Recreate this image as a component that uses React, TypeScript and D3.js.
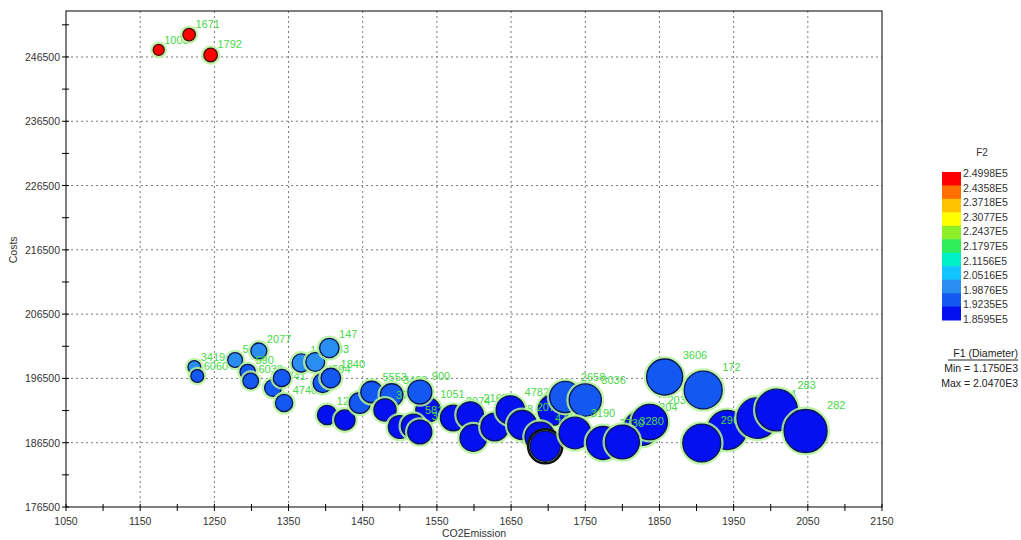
import { useEffect, useRef } from "react";
import * as d3 from "d3";

// point ids, CO2 emission (x, also F1 = diameter) and costs (y, also F2 = colour)
const ids = [
  "1003", "1671", "1792", "3419", "6060", "5136", "2077", "590", "6033", "4741",
  "6037", "4740", "1879", "4033", "147", "594", "1840", "1273", "1310", "2768",
  "5553", "3428", "3700", "4205", "1051", "581", "900", "3001", "2074", "2165",
  "2161", "6378", "4782", "4792", "2072", "4791", "1002", "2658", "3036", "3190",
  "204", "203", "2730", "3280", "3606", "172", "2955", "2960", "294", "283", "282",
];
const co2 = [
  1175, 1216, 1245, 1223, 1227, 1278, 1310, 1295, 1299, 1329,
  1341, 1344, 1367, 1386, 1405, 1396, 1407, 1402, 1426, 1446,
  1462, 1489, 1480, 1500, 1538, 1518, 1527, 1527, 1572, 1595,
  1599, 1628, 1649, 1707, 1665, 1689, 1696, 1723, 1750, 1736,
  1826, 1837, 1774, 1800, 1857, 1909, 1941, 1907, 1982, 2008, 2047,
];
const costs = [
  247590, 249980, 246810, 198277, 196877, 199366, 200766, 197499, 196099, 195010,
  196566, 192677, 198899, 199055, 201232, 195788, 196566, 190811, 190033, 192677,
  194388, 193922, 191588, 188944, 191588, 189100, 194388, 188166, 190344, 190811,
  187233, 188944, 191588, 191588, 189255, 187389, 185950, 193611, 193144, 188011,
  188789, 189722, 186455, 186611, 196722, 194699, 188478, 186455, 190344, 191588, 188322,
];
const selectedId = "1002";

const xTicks = d3.range(1050, 2151, 100);
const xMinor = d3.range(1100, 2101, 100);
const yTicks = d3.range(176500, 246501, 10000);
const yMinor = d3.range(181500, 251501, 10000);

const f2Labels = [
  "2.4998E5", "2.4358E5", "2.3718E5", "2.3077E5", "2.2437E5", "2.1797E5",
  "2.1156E5", "2.0516E5", "1.9876E5", "1.9235E5", "1.8595E5",
];
// low -> high
const colours = [
  "#0410f0", "#1458f2", "#2a8ef0", "#12c4ff", "#00f0c8", "#30ee5a",
  "#8cf028", "#ffff00", "#ffc400", "#ff7000", "#ff0000",
];

const font = "'Liberation Sans', Arial, sans-serif";

export default function App() {
  const ref = useRef<SVGSVGElement>(null);

  useEffect(() => {
    const svg = d3.select(ref.current);
    svg.selectAll("*").remove();

    const left = 66, right = 882, top = 11, bottom = 507;
    const x = d3.scaleLinear().domain([1050, 2150]).range([left, right]);
    const y = d3.scaleLinear().domain([176500, 253650]).range([bottom, top]);
    const r = d3.scaleLinear().domain([1175, 2047]).range([5.5, 21.5]);
    const colour = d3.scaleQuantize<string>().domain([185950, 249980]).range(colours);

    // grid
    const grid = svg.append("g").attr("stroke", "#7a7a7a").attr("stroke-dasharray", "2,3");
    xTicks.slice(1, -1).forEach((t) => {
      grid.append("line").attr("x1", x(t)).attr("x2", x(t)).attr("y1", top).attr("y2", bottom);
    });
    yTicks.slice(1).forEach((t) => {
      grid.append("line").attr("x1", left).attr("x2", right).attr("y1", y(t)).attr("y2", y(t));
    });

    // frame
    svg.append("rect")
      .attr("x", left).attr("y", top)
      .attr("width", right - left).attr("height", bottom - top)
      .attr("fill", "none").attr("stroke", "#000");

    // ticks
    const ticks = svg.append("g").attr("stroke", "#000");
    [...xTicks, ...xMinor].forEach((t) => {
      ticks.append("line").attr("x1", x(t)).attr("x2", x(t)).attr("y1", bottom - 3).attr("y2", bottom + 4);
    });
    [...yTicks, ...yMinor].forEach((t) => {
      ticks.append("line").attr("x1", left - 4).attr("x2", left + 3).attr("y1", y(t)).attr("y2", y(t));
    });

    svg.append("g").selectAll("text").data(xTicks).enter().append("text")
      .attr("x", (d) => x(d)).attr("y", 525)
      .attr("text-anchor", "middle")
      .attr("font-size", 10.5).attr("font-family", font).attr("fill", "#333")
      .text((d) => d);
    svg.append("g").selectAll("text").data(yTicks).enter().append("text")
      .attr("x", left - 6).attr("y", (d) => y(d) + 4)
      .attr("text-anchor", "end")
      .attr("font-size", 10.5).attr("font-family", font).attr("fill", "#333")
      .text((d) => d);

    svg.append("text")
      .attr("x", x(1600)).attr("y", 537).attr("text-anchor", "middle")
      .attr("font-size", 10.5).attr("font-family", font).attr("fill", "#333")
      .text("CO2Emission");
    svg.append("text")
      .attr("transform", `translate(17,${y(216500)}) rotate(-90)`)
      .attr("text-anchor", "middle")
      .attr("font-size", 10.5).attr("font-family", font).attr("fill", "#333")
      .text("Costs");

    // bubbles + labels, in drawing order
    const plot = svg.append("g");
    ids.forEach((id, i) => {
      const cx = x(co2[i]);
      const cy = y(costs[i]);
      const rad = r(co2[i]);
      const fill = colour(costs[i]);
      const isRed = costs[i] > 240000;
      plot.append("circle")
        .attr("cx", cx).attr("cy", cy).attr("r", rad + 1.6)
        .attr("fill", "none").attr("stroke", "#b2f298").attr("stroke-width", 2.6)
        .attr("opacity", 0.85);
      plot.append("circle")
        .attr("cx", cx).attr("cy", cy).attr("r", rad)
        .attr("fill", fill)
        .attr("stroke", isRed ? "#4a0a0a" : "#0a1450").attr("stroke-width", 1.3);
      if (id === selectedId) {
        plot.append("circle")
          .attr("cx", cx).attr("cy", cy).attr("r", rad + 2)
          .attr("fill", "none").attr("stroke", "#111").attr("stroke-width", 2.5);
      }
      plot.append("text")
        .attr("x", cx + rad).attr("y", cy - rad)
        .attr("font-size", 11).attr("font-family", font).attr("fill", "#48d848")
        .text(id);
    });

    // legend
    const lg = svg.append("g");
    lg.append("text").attr("x", 982).attr("y", 156).attr("text-anchor", "middle")
      .attr("font-size", 10).attr("font-family", font).attr("fill", "#333").text("F2");
    const bandH = 148 / colours.length;
    colours.slice().reverse().forEach((c, i) => {
      lg.append("rect").attr("x", 942).attr("y", 172 + i * bandH)
        .attr("width", 19).attr("height", bandH + 0.5).attr("fill", c);
    });
    f2Labels.forEach((t, i) => {
      lg.append("text").attr("x", 963).attr("y", 177 + i * 14.6)
        .attr("font-size", 10.5).attr("font-family", font).attr("fill", "#333").text(t);
    });
    lg.append("text").attr("x", 1018).attr("y", 357).attr("text-anchor", "end")
      .attr("font-size", 10.5).attr("font-family", font).attr("fill", "#222").text("F1 (Diameter)");
    lg.append("line").attr("x1", 948).attr("x2", 1018).attr("y1", 360).attr("y2", 360)
      .attr("stroke", "#222");
    lg.append("text").attr("x", 1018).attr("y", 372).attr("text-anchor", "end")
      .attr("font-size", 10.5).attr("font-family", font).attr("fill", "#222").text("Min = 1.1750E3");
    lg.append("text").attr("x", 1018).attr("y", 387).attr("text-anchor", "end")
      .attr("font-size", 10.5).attr("font-family", font).attr("fill", "#222").text("Max = 2.0470E3");
  }, []);

  return (
    <div style={{ position: "absolute", left: 0, top: 0 }}>
      <svg ref={ref} width={1021} height={540} style={{ display: "block", background: "#fff" }} />
    </div>
  );
}
